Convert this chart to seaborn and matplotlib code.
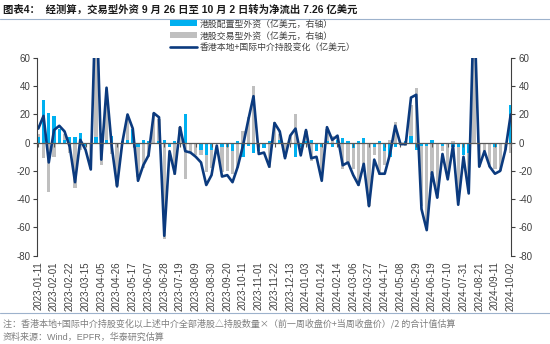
import numpy as np
import pandas as pd
import matplotlib
matplotlib.use("Agg")
import matplotlib.pyplot as plt
import seaborn as sns
from matplotlib.lines import Line2D
from matplotlib.patches import Patch

# ---------------- data ----------------
weeks = pd.date_range("2023-01-11", "2024-10-02", freq="7D").strftime("%Y-%m-%d").tolist()

# 香港本地+国际中介持股变化（亿美元） - line, left axis
holding_change = [10, 19, -14, 9, 12, 8, -3, -28, 2, -5,
                  -19, 110, -12, 39, -3, -31, 0, 20, 10, -27,
                  -16, -9, 21, 18, -66, -6, -22, 11, -6, -7,
                  -10, -14, -30, -23, -2, -24, -23, -28, -17, -2,
                  16, 33, -8, -7, -17, 14, 8, -11, 5, 10,
                  -9, 9, -11, -10, -27, 11, 2, 5, -16, -14,
                  -23, -30, -15, -45, -12, -22, -22, -8, 12, -1,
                  -1, 32, 34, -47, -62, -21, -39, -8, -26, -2,
                  -44, -10, -36, 100, -17, -6, -17, -22, -20, -5,
                  20]

# 港股配置型外资（亿美元，右轴） - cyan bars
allocation_flow = [4, 30, 21, 19, 10, 2, 4, 4, 7, -2,
                   0, 4, 4, 2, 5, 0, 1, 2, 10, -3,
                   2, 1, 0, 1, 2, -3, 1, 0, 20, 0,
                   -1, -5, -9, -5, -1, -3, -3, -6, 1, -10,
                   -2, -7, -6, -4, 1, -1, 2, -1, 0, -10,
                   -3, 1, 2, -6, -3, 1, -3, 2, 3, 1,
                   -4, 1, 3, 0, -3, 1, -6, -10, -3, 0,
                   1, 5, -5, -2, -2, 2, 0, -2, -1, -3,
                   -3, -9, -7, -1, 0, 0, 0, -3, 0, 0,
                   27]

# 港股交易型外资（亿美元，右轴） - gray bars
trading_flow = [6, -11, -35, -10, 2, 6, -7, -32, -5, -3,
                -19, 106, -16, 37, -8, -31, -1, 18, 0, -24,
                -18, -10, 21, 17, -68, -3, -23, 11, -26, -7,
                -9, -9, -21, -18, -1, -21, -20, -22, -18, 8,
                18, 40, -2, -3, -18, 15, 6, -10, 5, 20,
                -6, 8, -13, -4, -24, 10, 5, 3, -19, -15,
                -19, -31, -18, -45, -9, -23, -16, 2, 15, -1,
                -2, 27, 39, -45, -60, -23, -39, -6, -25, 1,
                -41, -1, -29, 101, -17, -6, -17, -19, -20, -5,
                -7]

legend_labels = ["港股配置型外资（亿美元，右轴）",
                 "港股交易型外资（亿美元，右轴）",
                 "香港本地+国际中介持股变化（亿美元）"]
title_text = "图表4：  经测算，交易型外资 9 月 26 日至 10 月 2 日转为净流出 7.26 亿美元"
note_text = "注：香港本地+国际中介持股变化以上述中介全部港股△持股数量×（前一周收盘价+当周收盘价）/2 的合计值估算"
source_text = "资料来源：Wind，EPFR，华泰研究估算"

# ---------------- style ----------------
CYAN = "#00B0F0"
GRAY = "#BFBFBF"
NAVY = "#0B3A7E"
AXC = "#404040"

sns.set_theme(style="white")
plt.rcParams["font.family"] = ["Liberation Sans", "Noto Sans CJK SC", "DejaVu Sans"]
plt.rcParams["axes.unicode_minus"] = False

df = pd.DataFrame({
    "pos": np.arange(len(weeks)),
    "week": weeks,
    "hold": holding_change,
    "alloc": allocation_flow,
    "trade": trading_flow,
})

fig = plt.figure(figsize=(5.5, 3.44), dpi=100)
ax = fig.add_axes([37.3 / 550, (344 - 255.5) / 344, (511.5 - 37.3) / 550, (255.5 - 58.1) / 344])
ax2 = ax.twinx()

# bars on right axis
sns.barplot(data=df, x="pos", y="trade", color=GRAY, saturation=1, width=0.64,
            errorbar=None, native_scale=True, linewidth=0, ax=ax2)
sns.barplot(data=df, x="pos", y="alloc", color=CYAN, saturation=1, width=0.64,
            errorbar=None, native_scale=True, linewidth=0, ax=ax2)

# line on left axis
sns.lineplot(data=df, x="pos", y="hold", color=NAVY, linewidth=1.9, ax=ax,
             solid_joinstyle="round", solid_capstyle="round")

ax.set_zorder(ax2.get_zorder() + 1)
ax.patch.set_visible(False)

yticks = list(range(-80, 61, 20))
xmin, xmax = -0.19, 90.15
for a in (ax, ax2):
    a.set_ylim(-80, 60)
    a.set_yticks(yticks)
    a.set_xlim(xmin, xmax)
    a.set_xlabel("")
    a.set_ylabel("")
    a.grid(False)

tick_pos = df["pos"].iloc[::3].tolist()
tick_lab = df["week"].iloc[::3].tolist()

# zero line as bottom spine with ticks
ax.spines["bottom"].set_position(("data", 0))
ax.spines["bottom"].set_color("#595959")
ax.spines["bottom"].set_linewidth(0.9)
ax.set_xticks(tick_pos)
ax.tick_params(axis="x", direction="out", length=3, width=0.8, color="#595959",
               labelbottom=False, bottom=True)
ax.spines["top"].set_visible(False)
ax.spines["right"].set_visible(False)
ax.spines["left"].set_color(AXC)
ax.spines["left"].set_linewidth(0.8)
ax.tick_params(axis="y", direction="out", length=3, width=0.8, color=AXC,
               labelsize=7, labelcolor=AXC, left=True, pad=2)

for s in ("top", "bottom", "left"):
    ax2.spines[s].set_visible(False)
ax2.spines["right"].set_color(AXC)
ax2.spines["right"].set_linewidth(0.8)
ax2.tick_params(axis="y", direction="out", length=3, width=0.8, color=AXC,
                labelsize=7, labelcolor=AXC, right=True, pad=2)

sec = ax.secondary_xaxis(0.0)
sec.set_xticks(tick_pos, tick_lab, rotation=90)
sec.tick_params(length=0, pad=4, labelsize=7, labelcolor=AXC)
sec.spines["bottom"].set_visible(False)

# legend
handles = [Patch(facecolor=CYAN, edgecolor="none"),
           Patch(facecolor=GRAY, edgecolor="none"),
           Line2D([], [], color=NAVY, lw=1.9)]
leg = fig.legend(handles, legend_labels, loc="upper left",
                 bbox_to_anchor=(170 / 550, 1 - 19.5 / 344), frameon=False,
                 fontsize=6.4, handlelength=3.0, handleheight=0.65,
                 labelspacing=0.32, handletextpad=0.35, borderpad=0, borderaxespad=0,
                 prop={"family": ["Noto Sans CJK SC"], "size": 6.4})
for t in leg.get_texts():
    t.set_color(AXC)

# title, separators, notes
fig.text(3 / 550, 1 - 10 / 344, title_text, fontsize=7.45, fontweight="bold",
         ha="left", va="center", color="#1a1a1a",
         family=["Liberation Sans", "Noto Sans CJK SC"])
fig.add_artist(Line2D([0, 1], [1 - 19 / 344] * 2, transform=fig.transFigure,
                      color="#9DB2CC", lw=0.8))
fig.add_artist(Line2D([0, 1], [1 - 313 / 344] * 2, transform=fig.transFigure,
                      color="#9DB2CC", lw=0.8))
fig.text(3 / 550, 1 - 323.5 / 344, note_text, fontsize=6.5, color="#7f7f7f",
         ha="left", va="center", family=["Noto Sans CJK SC", "DejaVu Sans"])
fig.text(3 / 550, 1 - 337 / 344, source_text, fontsize=6.5, color="#7f7f7f",
         ha="left", va="center", family=["Liberation Sans", "Noto Sans CJK SC"])

fig.savefig("out.png", dpi=100)
